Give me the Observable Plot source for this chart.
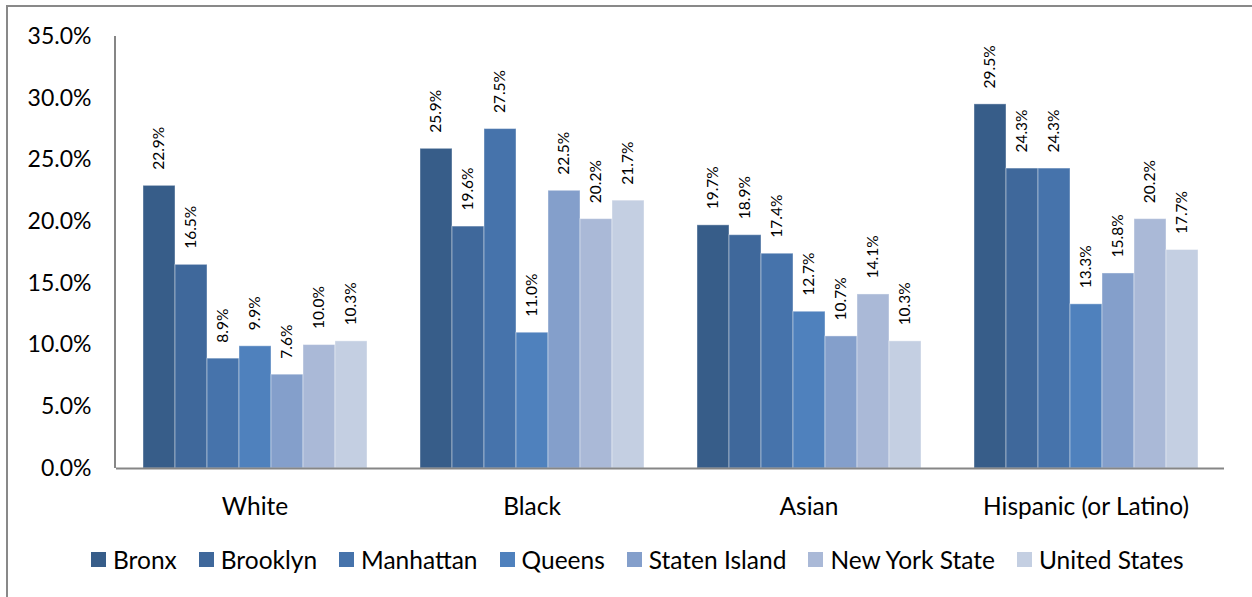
<!DOCTYPE html>
<html><head><meta charset="utf-8">
<script src="https://cdn.jsdelivr.net/npm/d3@7"></script>
<script src="https://cdn.jsdelivr.net/npm/@observablehq/plot@0.6"></script>
<style>
body{margin:0;width:1252px;height:597px;overflow:hidden;background:#fff;font-family:Lato,"Open Sans",sans-serif;position:relative}
#frame{position:absolute;left:6px;top:5px;width:1300px;height:700px;border-left:2px solid #898989;border-top:2px solid #898989;}
#chart{position:absolute;left:0;top:0}
#legend{position:absolute;top:545px;left:91px;display:flex;align-items:center;font-size:24.5px;color:#000;white-space:nowrap}
.item{display:flex;align-items:center;margin-right:22px}
.sw{width:15px;height:15px;margin-right:7px;flex:none}
</style></head><body>
<div id="frame"></div><div id="chart"></div><div id="legend"></div>
<script>
const groups = ["White","Black","Asian","Hispanic (or Latino)"];
const series = ["Bronx","Brooklyn","Manhattan","Queens","Staten Island","New York State","United States"];
const colors = ["#375D89","#3F689B","#4673AB","#4F81BD","#849FCB","#AAB9D7","#C4CFE2"];
const white = [22.9,16.5,8.9,9.9,7.6,10.0,10.3];
const black = [25.9,19.6,27.5,11.0,22.5,20.2,21.7];
const asian = [19.7,18.9,17.4,12.7,10.7,14.1,10.3];
const hispanic = [29.5,24.3,24.3,13.3,15.8,20.2,17.7];
const yTicks = [0,5,10,15,20,25,30,35];

const valuesByGroup = [white, black, asian, hispanic];
const data = [];
groups.forEach((g, gi) => series.forEach((s, si) => data.push({group: g, series: s, value: valuesByGroup[gi][si]})));

const chart = Plot.plot({
  width: 1252, height: 530,
  marginLeft: 115, marginRight: 27, marginTop: 36, marginBottom: 62,
  style: {fontFamily: "Lato, 'Open Sans', sans-serif", fontSize: "23px", color: "#000", background: "transparent"},
  fx: {domain: groups, padding: 0, label: null},
  x: {domain: series, paddingInner: 0, paddingOuter: 0.743, axis: null},
  y: {domain: [0, 35], label: null},
  color: {domain: series, range: colors},
  marks: [
    Plot.axisFx({anchor: "bottom", tickSize: 0, tickPadding: 29, fontSize: 24.5, label: null}),
    Plot.axisY({ticks: yTicks, tickFormat: d => d.toFixed(1) + "%", tickSize: 0, tickPadding: 25, fontSize: 23, label: null}),
    Plot.barY(data, {fx: "group", x: "series", y: "value", fill: "series", stroke: "white", strokeOpacity: 0.4, strokeWidth: 1}),
    Plot.text(data, {fx: "group", x: "series", y: "value", text: d => d.value.toFixed(1) + "%", rotate: -90, textAnchor: "start", dy: -16, fontSize: 15.5, fill: "#000"}),
    Plot.ruleY([0], {stroke: "#868686", strokeWidth: 2})
  ]
});
document.getElementById("chart").appendChild(chart);

// y axis line at the left edge of the facet range
const fxr = chart.scale("fx").range, yr = chart.scale("y").range;
d3.select(chart).append("line")
  .attr("x1", fxr[0]).attr("x2", fxr[0])
  .attr("y1", yr[0]).attr("y2", yr[1])
  .attr("stroke", "#868686").attr("stroke-width", 2);

const legend = d3.select("#legend");
series.forEach((s, i) => {
  const it = legend.append("div").attr("class", "item");
  it.append("div").attr("class", "sw").style("background", colors[i]);
  it.append("span").text(s);
});
</script>
</body></html>
